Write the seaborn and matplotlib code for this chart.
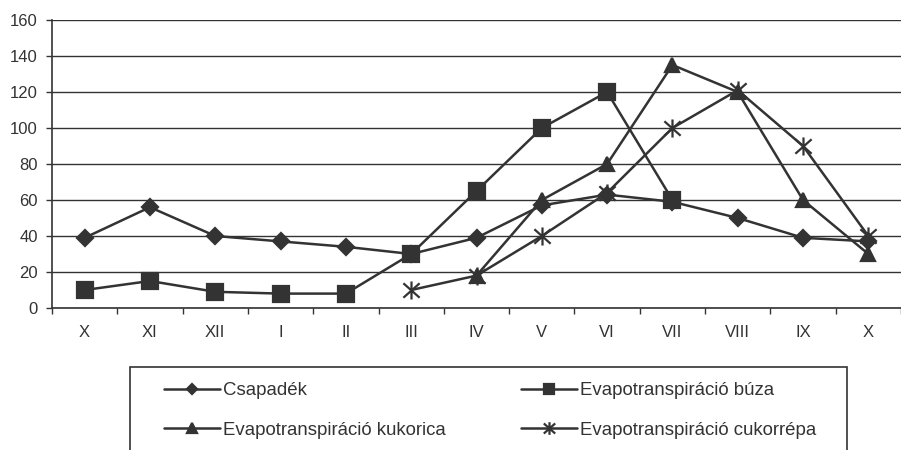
import numpy as np
import pandas as pd
import seaborn as sns
import matplotlib.pyplot as plt
from matplotlib.path import Path
from matplotlib.patches import Rectangle

months = ["X", "XI", "XII", "I", "II", "III", "IV", "V", "VI", "VII", "VIII", "IX", "X"]
csapadek = [39, 56, 40, 37, 34, 30, 39, 57, 63, 59, 50, 39, 37]
buza = [10, 15, 9, 8, 8, 30, 65, 100, 120, 60]            # X .. VII
kukorica = [18, 60, 80, 135, 120, 60, 30]                  # IV .. X
cukorrepa = [10, 18, 40, 64, 100, 121, 90, 40]             # III .. X
yticks = list(range(0, 161, 20))

names = ["Csapadék", "Evapotranspiráció búza",
         "Evapotranspiráció kukorica", "Evapotranspiráció cukorrépa"]

sns.set_theme(style="white")
plt.rcParams['font.family'] = ['Liberation Sans', 'DejaVu Sans']
dark = "#333333"

# excel style star: vertical bar + X
star = Path([(0, -1), (0, 1), (-0.9, -0.8), (0.9, 0.8), (-0.9, 0.8), (0.9, -0.8)],
            [Path.MOVETO, Path.LINETO, Path.MOVETO, Path.LINETO, Path.MOVETO, Path.LINETO])

fig = plt.figure(figsize=(9.01, 4.5), dpi=100)
W, H = 901, 450
ax = fig.add_axes([52 / W, 1 - 308 / H, (W - 52) / W, 288 / H])

pos = np.arange(len(months))
series = [
    (csapadek, pos[:len(csapadek)], "D", 8, dark),
    (buza, pos[:len(buza)], "s", 11, dark),
    (kukorica, pos[len(months) - len(kukorica):], "^", 10.5, dark),
    (cukorrepa, pos[len(months) - len(cukorrepa):], star, 13, dark),
]
for (vals, xs, mk, ms, fc), name in zip(series, names):
    sns.lineplot(x=xs, y=vals, ax=ax, color=dark, linewidth=1.8, marker=mk,
                 markersize=ms, markerfacecolor=fc, markeredgecolor=dark,
                 markeredgewidth=1.6, label=name, sort=False, estimator=None)

ax.set_ylim(0, 160)
ax.set_xlim(-0.5, (W - 52) / 66 - 0.5)
ax.set_yticks(yticks)
ax.set_xticks(pos)
ax.set_xticklabels(months)
ax.set_xticks(np.arange(-0.5, len(months)), minor=True)
ax.yaxis.grid(True, color=dark, linewidth=1)
ax.xaxis.grid(False)
ax.set_axisbelow(True)
for s in ["top", "right"]:
    ax.spines[s].set_visible(False)
for s in ["left", "bottom"]:
    ax.spines[s].set_color(dark)
    ax.spines[s].set_linewidth(1.2)
ax.tick_params(axis="y", which="major", left=True, length=4.3, width=1, color=dark,
               labelsize=12, labelcolor=dark, pad=6)
ax.tick_params(axis="x", which="major", bottom=False, length=0, labelsize=12,
               labelcolor=dark, pad=12)
ax.tick_params(axis="x", which="minor", bottom=True, length=4, width=1, color=dark)
ax.set_xlabel("")
ax.set_ylabel("")

h, l = ax.get_legend_handles_labels()
ax.get_legend().remove()
order = [0, 2, 1, 3]
leg = fig.legend([h[i] for i in order], [l[i] for i in order], ncol=2,
                 loc="upper left", bbox_to_anchor=(155 / W, 1 - 373 / H),
                 frameon=False, borderpad=0, handlelength=3.0, handletextpad=0.15,
                 labelspacing=1.2, columnspacing=4.05, fontsize=13.4, markerscale=0.7)
for t in leg.get_texts():
    t.set_color(dark)
fig.add_artist(Rectangle((130 / W, -0.1), (847 - 130) / W, 0.1 + 1 - 367 / H,
                         transform=fig.transFigure, fill=False, edgecolor=dark,
                         linewidth=1.2))

fig.savefig("out.png", dpi=100)
